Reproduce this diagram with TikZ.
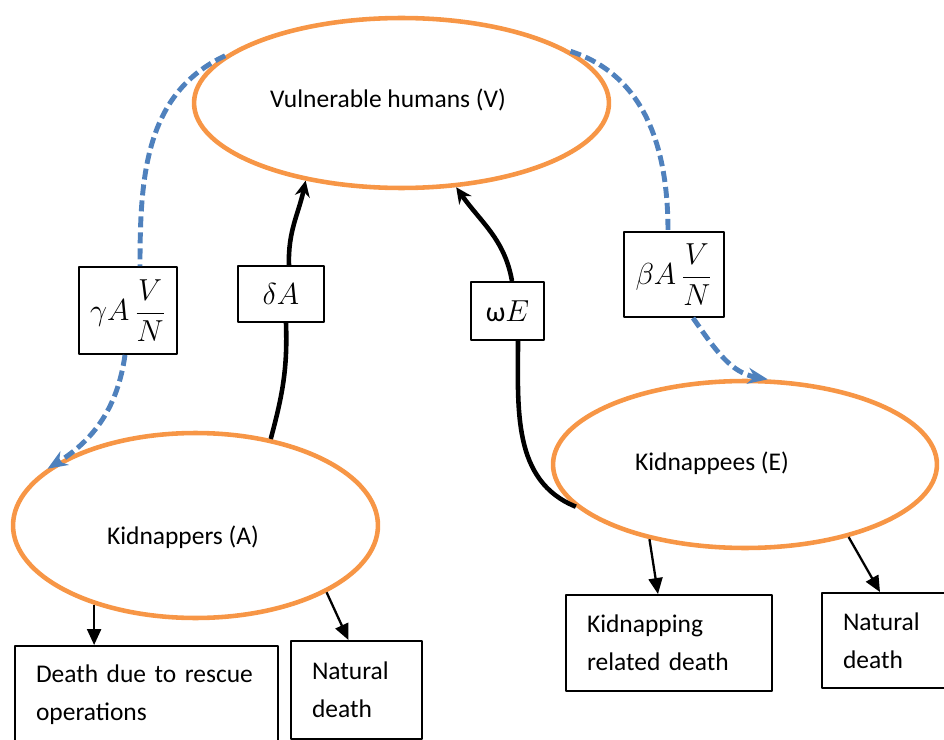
\documentclass[tikz,border=0pt]{standalone}
\usepackage{fontspec}
\setmainfont{Carlito}
\usetikzlibrary{shapes.geometric,arrows.meta}
\definecolor{compOrange}{HTML}{F79646}
\definecolor{rateBlue}{HTML}{4F81BD}
\begin{document}
\begin{tikzpicture}[x=0.02cm,y=0.02cm,font=\fontsize{14.5}{21.5}\selectfont,line join=round,
	compart/.style={draw=compOrange,line width=2.6pt,ellipse,inner sep=0pt},
	ratebox/.style={draw,line width=1.1pt,fill=white,inner sep=0pt,font=\fontsize{16}{19}\selectfont},
	deathbox/.style={draw,line width=1.1pt,inner xsep=0.42cm,inner ysep=0pt,align=left},
	infect/.style={draw=rateBlue,line width=2.8pt,dash pattern=on 0.22cm off 0.1cm},
	back/.style={line width=2.6pt},
	die/.style={line width=1.3pt,-{Triangle[length=0.32cm,width=0.28cm]}}]
	\useasboundingbox (0,0) rectangle (944,-740);
	
	\node[compart,minimum width=8.3cm,minimum height=3.4cm] (V) at (401.5,-103) {};
	\node[compart,minimum width=7.3cm,minimum height=3.7cm] (A) at (195.5,-525.5) {};
	\node[compart,minimum width=7.68cm,minimum height=3.34cm] (E) at (745,-464.5) {};
	\path (388,-100) node (Vtxt) {Vulnerable humans (V)};
	\path (183,-537) node (Atxt) {Kidnappers (A)};
	\path (712,-463) node (Etxt) {Kidnappees (E)};
	
	\node[ratebox,minimum width=1.96cm,minimum height=1.74cm] (gam) at (128,-310.5) {$\gamma A\,\displaystyle\frac{V}{N}$};
	\node[ratebox,minimum width=1.72cm,minimum height=1.12cm] (del) at (281,-294) {$\delta A$};
	\node[ratebox,minimum width=1.46cm,minimum height=1.16cm] (omg) at (507.5,-311) {ω$E$};
	\node[ratebox,minimum width=2cm,minimum height=1.7cm] (bet) at (674,-274.5) {$\beta A\,\displaystyle\frac{V}{N}$};
	
	\node[deathbox,text width=4.42cm,minimum height=1.96cm] (resc) at (146.5,-695) {Death due to rescue\\operations};
	\node[deathbox,text width=1.78cm,minimum height=1.96cm] (natA) at (356.5,-690) {Natural\\death};
	\node[deathbox,text width=3.28cm,minimum height=1.92cm] (kid) at (669,-643) {Kidnapping\\related death};
	\node[deathbox,text width=1.78cm,minimum height=1.9cm] (natE) at (887.5,-640.5) {Natural\\death};
	
	\draw[infect] (V.165) to[out=205,in=90] ([xshift=0.24cm]gam.north);
	\draw[infect,-{Stealth[length=0.4cm,width=0.32cm]}] ([xshift=-0.06cm]gam.south) to[out=262,in=32] (A.159);
	\draw[infect] (V.17) to[out=-18,in=90] ([xshift=-0.12cm]bet.north);
	\draw[infect,-{Stealth[length=0.4cm,width=0.32cm]}] ([xshift=0.38cm]bet.south) to[out=-55,in=170] (E.75);
	
	\draw[back] (A.49) to[out=75,in=-88] ([xshift=0.1cm]del.south);
	\draw[back,-{Stealth[length=0.32cm,width=0.3cm]}] ([xshift=0.16cm]del.north) to[out=92,in=-102] (V.219);
	\draw[back] (E.194) to[out=158,in=-90] ([xshift=0.21cm]omg.south);
	\draw[back,-{Stealth[length=0.32cm,width=0.3cm]}] ([xshift=0.09cm]omg.north) to[out=100,in=-55] (V.303);
	
	\draw[die] (A.218) -- (A.218 |- resc.north);
	\draw[die] (A.333) -- ([xshift=-0.16cm]natA.north);
	\draw[die] (E.218) -- ([xshift=-0.22cm]kid.north);
	\draw[die] (E.325) -- ([xshift=-0.15cm]natE.north);
\end{tikzpicture}
\end{document}
